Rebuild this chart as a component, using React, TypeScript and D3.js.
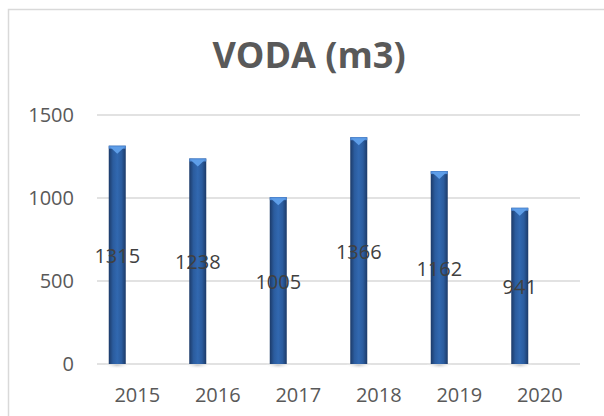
import React from "react";
import * as d3 from "d3";

const categories = ["2015", "2016", "2017", "2018", "2019", "2020"];
const values = [1315, 1238, 1005, 1366, 1162, 941];
const yTicks = [0, 500, 1000, 1500];
const title = "VODA (m3)";

export default function App() {
  const W = 604, H = 416;
  const x = d3.scaleBand<string>().domain(categories).range([97, 580]).paddingInner(0).paddingOuter(0);
  const y = d3.scaleLinear().domain([0, 1500]).range([364, 115]);
  const barW = 17;
  const offset = -20;
  const font = "'Open Sans', 'Liberation Sans', sans-serif";
  return (
    <svg width={W} height={H} style={{ position: "fixed", left: 0, top: 0, background: "#fff" }}>
      <defs>
        <linearGradient id="barGrad" x1="0" x2="1" y1="0" y2="0">
          <stop offset="0" stopColor="#1c3a68" />
          <stop offset="0.25" stopColor="#2b5c9e" />
          <stop offset="0.5" stopColor="#3168b0" />
          <stop offset="0.75" stopColor="#2b5c9e" />
          <stop offset="1" stopColor="#1c3a68" />
        </linearGradient>
        <radialGradient id="shadow" cx="0.5" cy="0.5" r="0.5">
          <stop offset="0" stopColor="#c8c8c8" />
          <stop offset="1" stopColor="#ffffff" stopOpacity="0" />
        </radialGradient>
      </defs>
      <rect x={8.5} y={9.5} width={W + 10} height={H + 10} fill="#fff" stroke="#d9d9d9" strokeWidth={1.5} />
      <text x={309} y={68} textAnchor="middle" fontFamily={font} fontWeight={700} fontSize={36} fill="#595959">
        {title}
      </text>
      {yTicks.map((t) => (
        <g key={t}>
          <line x1={97} x2={580} y1={y(t)} y2={y(t)} stroke="#d9d9d9" strokeWidth={1.5} />
          <text x={74} y={y(t)} dy="0.35em" textAnchor="end" fontFamily={font} fontSize={20} fill="#595959">
            {t}
          </text>
        </g>
      ))}
      {categories.map((c, i) => {
        const cx = (x(c) as number) + x.bandwidth() / 2 + offset;
        const top = y(values[i]);
        const bot = y(0);
        return (
          <g key={c}>
            <ellipse cx={cx} cy={bot + 1} rx={13} ry={4} fill="url(#shadow)" />
            <rect x={cx - barW / 2} y={top} width={barW} height={bot - top} fill="url(#barGrad)" />
            <rect x={cx - barW / 2} y={top} width={barW} height={3} fill="#4f8ad6" />
            <path d={`M${cx - barW / 2 + 1},${top + 1}L${cx + barW / 2 - 1},${top + 1}L${cx},${top + 8}Z`} fill="#5e9ee8" />
          </g>
        );
      })}
      {categories.map((c, i) => {
        const cx = (x(c) as number) + x.bandwidth() / 2 + offset;
        const mid = (y(values[i]) + y(0)) / 2;
        return (
          <text key={c} x={cx} y={mid + 1} dy="0.35em" textAnchor="middle" fontFamily={font} fontSize={20} fill="#404040">
            {values[i]}
          </text>
        );
      })}
      {categories.map((c) => (
        <text key={c} x={(x(c) as number) + x.bandwidth() / 2} y={395} dy="0.35em" textAnchor="middle" fontFamily={font} fontSize={20} fill="#595959">
          {c}
        </text>
      ))}
    </svg>
  );
}
